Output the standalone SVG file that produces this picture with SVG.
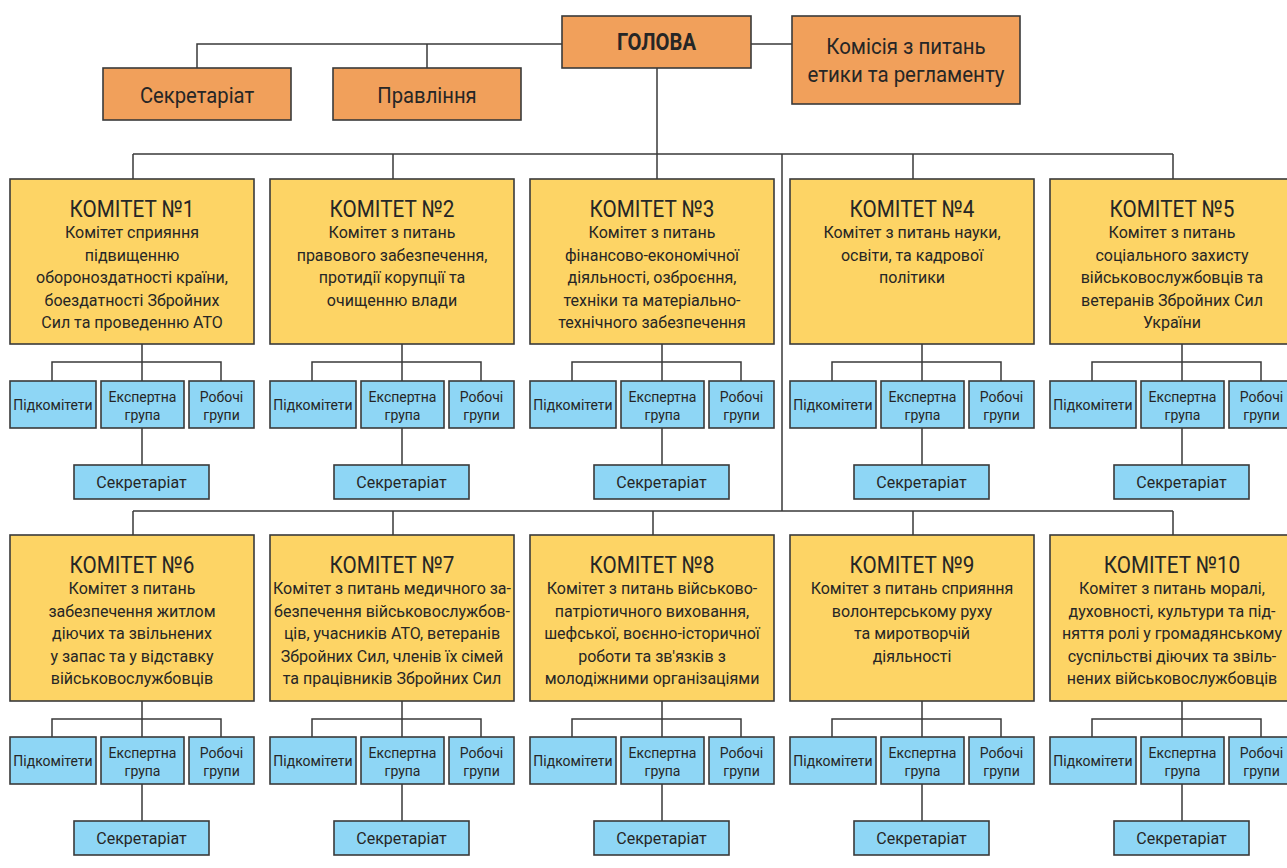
<svg xmlns="http://www.w3.org/2000/svg" width="1287" height="868" viewBox="0 0 1287 868">
<style>
.o{fill:#F1A05B;stroke:#3a3a3a;stroke-width:1.6}
.y{fill:#FDD465;stroke:#3a3a3a;stroke-width:1.6}
.b{fill:#8ED6F5;stroke:#3a3a3a;stroke-width:1.6}
.c{fill:none;stroke:#3a3a3a;stroke-width:1.5}
text{font-family:"Liberation Sans Narrow","Roboto","Liberation Sans",sans-serif;fill:#262626;text-anchor:middle}
.h{font-size:22px}
.hb{font-size:23px;font-weight:bold}
.t{font-size:23.5px}
.d{font-size:16px}
.s{font-size:14px}
.sc{font-size:16px}
</style>
<rect width="1287" height="868" fill="#ffffff"/>
<g id="connectors">
<path class="c" d="M197,68V44H562M751,44H792M427,44V68M657,68V179"/>
<path class="c" d="M133,154H1173M133,154V179M393,154V179M913,154V179M1173,154V179M782,154V511"/>
<path class="c" d="M133,511H1173M133,511V535M393,511V535M653,511V535M913,511V535M1173,511V535"/>
<path class="c" d="M142,344V381M52,381V362H221V381M142,428V465"/>
<path class="c" d="M402,344V381M312,381V362H481V381M402,428V465"/>
<path class="c" d="M662,344V381M572,381V362H741V381M662,428V465"/>
<path class="c" d="M922,344V381M832,381V362H1001V381M922,428V465"/>
<path class="c" d="M1182,344V381M1092,381V362H1261V381M1182,428V465"/>
<path class="c" d="M142,701V737M52,737V719H221V737M142,784V821"/>
<path class="c" d="M402,701V737M312,737V719H481V737M402,784V821"/>
<path class="c" d="M662,701V737M572,737V719H741V737M662,784V821"/>
<path class="c" d="M922,701V737M832,737V719H1001V737M922,784V821"/>
<path class="c" d="M1182,701V737M1092,737V719H1261V737M1182,784V821"/>
</g>
<g id="holova"><rect class="o" x="562" y="16" width="189" height="52"/><text class="hb" transform="translate(656.5,50) scale(0.88,1)">ГОЛОВА</text></g>
<g id="komisiia"><rect class="o" x="792" y="16" width="228" height="88"/><text class="h" transform="translate(906,54) scale(0.93,1)">Комісія з питань</text><text class="h" transform="translate(906,82) scale(0.93,1)">етики та регламенту</text></g>
<g id="sekretariat-top"><rect class="o" x="103" y="68" width="188" height="52"/><text class="h" transform="translate(197,103) scale(0.92,1)">Секретаріат</text></g>
<g id="pravlinnia"><rect class="o" x="333" y="68" width="188" height="52"/><text class="h" transform="translate(427,103) scale(0.92,1)">Правління</text></g>

<g id="k1"><rect class="y" x="10" y="179" width="244" height="165"/><text class="t" transform="translate(132,217) scale(0.88,1)">КОМІТЕТ №1</text>
<text class="d" x="132" y="238">Комітет сприяння</text><text class="d" x="132" y="260.5">підвищенню</text><text class="d" x="132" y="283">обороноздатності країни,</text><text class="d" x="132" y="305.5">боездатності Збройних</text><text class="d" x="132" y="328">Сил та проведенню АТО</text></g>
<g id="k2"><rect class="y" x="270" y="179" width="244" height="165"/><text class="t" transform="translate(392,217) scale(0.88,1)">КОМІТЕТ №2</text>
<text class="d" x="392" y="238">Комітет з питань</text><text class="d" x="392" y="260.5">правового забезпечення,</text><text class="d" x="392" y="283">протидії корупції та</text><text class="d" x="392" y="305.5">очищенню влади</text></g>
<g id="k3"><rect class="y" x="530" y="179" width="244" height="165"/><text class="t" transform="translate(652,217) scale(0.88,1)">КОМІТЕТ №3</text>
<text class="d" x="652" y="238">Комітет з питань</text><text class="d" x="652" y="260.5">фінансово-економічної</text><text class="d" x="652" y="283">діяльності, озброєння,</text><text class="d" x="652" y="305.5">техніки та матеріально-</text><text class="d" x="652" y="328">технічного забезпечення</text></g>
<g id="k4"><rect class="y" x="790" y="179" width="244" height="165"/><text class="t" transform="translate(912,217) scale(0.88,1)">КОМІТЕТ №4</text>
<text class="d" x="912" y="238">Комітет з питань науки,</text><text class="d" x="912" y="260.5">освіти, та кадрової</text><text class="d" x="912" y="283">політики</text></g>
<g id="k5"><rect class="y" x="1050" y="179" width="244" height="165"/><text class="t" transform="translate(1172,217) scale(0.88,1)">КОМІТЕТ №5</text>
<text class="d" x="1172" y="238">Комітет з питань</text><text class="d" x="1172" y="260.5">соціального захисту</text><text class="d" x="1172" y="283">військовослужбовців та</text><text class="d" x="1172" y="305.5">ветеранів Збройних Сил</text><text class="d" x="1172" y="328">України</text></g>

<g id="k6"><rect class="y" x="10" y="535" width="244" height="166"/><text class="t" transform="translate(132,573) scale(0.88,1)">КОМІТЕТ №6</text>
<text class="d" x="132" y="594">Комітет з питань</text><text class="d" x="132" y="616.5">забезпечення житлом</text><text class="d" x="132" y="639">діючих та звільнених</text><text class="d" x="132" y="661.5">у запас та у відставку</text><text class="d" x="132" y="684">військовослужбовців</text></g>
<g id="k7"><rect class="y" x="270" y="535" width="244" height="166"/><text class="t" transform="translate(392,573) scale(0.88,1)">КОМІТЕТ №7</text>
<text class="d" x="392" y="594">Комітет з питань медичного за-</text><text class="d" x="392" y="616.5">безпечення військовослужбов-</text><text class="d" x="392" y="639">ців, учасників АТО, ветеранів</text><text class="d" x="392" y="661.5">Збройних Сил, членів їх сімей</text><text class="d" x="392" y="684">та працівників Збройних Сил</text></g>
<g id="k8"><rect class="y" x="530" y="535" width="244" height="166"/><text class="t" transform="translate(652,573) scale(0.88,1)">КОМІТЕТ №8</text>
<text class="d" x="652" y="594">Комітет з питань військово-</text><text class="d" x="652" y="616.5">патріотичного виховання,</text><text class="d" x="652" y="639">шефської, воєнно-історичної</text><text class="d" x="652" y="661.5">роботи та зв'язків з</text><text class="d" x="652" y="684">молодіжними організаціями</text></g>
<g id="k9"><rect class="y" x="790" y="535" width="244" height="166"/><text class="t" transform="translate(912,573) scale(0.88,1)">КОМІТЕТ №9</text>
<text class="d" x="912" y="594">Комітет з питань сприяння</text><text class="d" x="912" y="616.5">волонтерському руху</text><text class="d" x="912" y="639">та миротворчій</text><text class="d" x="912" y="661.5">діяльності</text></g>
<g id="k10"><rect class="y" x="1050" y="535" width="244" height="166"/><text class="t" transform="translate(1172,573) scale(0.88,1)">КОМІТЕТ №10</text>
<text class="d" x="1172" y="594">Комітет з питань моралі,</text><text class="d" x="1172" y="616.5">духовності, культури та під-</text><text class="d" x="1172" y="639">няття ролі у громадянському</text><text class="d" x="1172" y="661.5">суспільстві діючих та звіль-</text><text class="d" x="1172" y="684">нених військовослужбовців</text></g>

<g id="k1-sub"><rect class="b" x="10" y="381" width="86" height="47"/><text class="s" x="53" y="410">Підкомітети</text><rect class="b" x="101" y="381" width="83" height="47"/><text class="s" x="142.5" y="402">Експертна</text><text class="s" x="142.5" y="420">група</text><rect class="b" x="189" y="381" width="65" height="47"/><text class="s" x="221.5" y="402">Робочі</text><text class="s" x="221.5" y="420">групи</text><rect class="b" x="74" y="465" width="135" height="34"/><text class="sc" x="141.5" y="488">Секретаріат</text></g>
<g id="k2-sub"><rect class="b" x="270" y="381" width="86" height="47"/><text class="s" x="313" y="410">Підкомітети</text><rect class="b" x="361" y="381" width="83" height="47"/><text class="s" x="402.5" y="402">Експертна</text><text class="s" x="402.5" y="420">група</text><rect class="b" x="449" y="381" width="65" height="47"/><text class="s" x="481.5" y="402">Робочі</text><text class="s" x="481.5" y="420">групи</text><rect class="b" x="334" y="465" width="135" height="34"/><text class="sc" x="401.5" y="488">Секретаріат</text></g>
<g id="k3-sub"><rect class="b" x="530" y="381" width="86" height="47"/><text class="s" x="573" y="410">Підкомітети</text><rect class="b" x="621" y="381" width="83" height="47"/><text class="s" x="662.5" y="402">Експертна</text><text class="s" x="662.5" y="420">група</text><rect class="b" x="709" y="381" width="65" height="47"/><text class="s" x="741.5" y="402">Робочі</text><text class="s" x="741.5" y="420">групи</text><rect class="b" x="594" y="465" width="135" height="34"/><text class="sc" x="661.5" y="488">Секретаріат</text></g>
<g id="k4-sub"><rect class="b" x="790" y="381" width="86" height="47"/><text class="s" x="833" y="410">Підкомітети</text><rect class="b" x="881" y="381" width="83" height="47"/><text class="s" x="922.5" y="402">Експертна</text><text class="s" x="922.5" y="420">група</text><rect class="b" x="969" y="381" width="65" height="47"/><text class="s" x="1001.5" y="402">Робочі</text><text class="s" x="1001.5" y="420">групи</text><rect class="b" x="854" y="465" width="135" height="34"/><text class="sc" x="921.5" y="488">Секретаріат</text></g>
<g id="k5-sub"><rect class="b" x="1050" y="381" width="86" height="47"/><text class="s" x="1093" y="410">Підкомітети</text><rect class="b" x="1141" y="381" width="83" height="47"/><text class="s" x="1182.5" y="402">Експертна</text><text class="s" x="1182.5" y="420">група</text><rect class="b" x="1229" y="381" width="65" height="47"/><text class="s" x="1261.5" y="402">Робочі</text><text class="s" x="1261.5" y="420">групи</text><rect class="b" x="1114" y="465" width="135" height="34"/><text class="sc" x="1181.5" y="488">Секретаріат</text></g>

<g id="k6-sub"><rect class="b" x="10" y="737" width="86" height="47"/><text class="s" x="53" y="766">Підкомітети</text><rect class="b" x="101" y="737" width="83" height="47"/><text class="s" x="142.5" y="758">Експертна</text><text class="s" x="142.5" y="776">група</text><rect class="b" x="189" y="737" width="65" height="47"/><text class="s" x="221.5" y="758">Робочі</text><text class="s" x="221.5" y="776">групи</text><rect class="b" x="74" y="821" width="135" height="34"/><text class="sc" x="141.5" y="844">Секретаріат</text></g>
<g id="k7-sub"><rect class="b" x="270" y="737" width="86" height="47"/><text class="s" x="313" y="766">Підкомітети</text><rect class="b" x="361" y="737" width="83" height="47"/><text class="s" x="402.5" y="758">Експертна</text><text class="s" x="402.5" y="776">група</text><rect class="b" x="449" y="737" width="65" height="47"/><text class="s" x="481.5" y="758">Робочі</text><text class="s" x="481.5" y="776">групи</text><rect class="b" x="334" y="821" width="135" height="34"/><text class="sc" x="401.5" y="844">Секретаріат</text></g>
<g id="k8-sub"><rect class="b" x="530" y="737" width="86" height="47"/><text class="s" x="573" y="766">Підкомітети</text><rect class="b" x="621" y="737" width="83" height="47"/><text class="s" x="662.5" y="758">Експертна</text><text class="s" x="662.5" y="776">група</text><rect class="b" x="709" y="737" width="65" height="47"/><text class="s" x="741.5" y="758">Робочі</text><text class="s" x="741.5" y="776">групи</text><rect class="b" x="594" y="821" width="135" height="34"/><text class="sc" x="661.5" y="844">Секретаріат</text></g>
<g id="k9-sub"><rect class="b" x="790" y="737" width="86" height="47"/><text class="s" x="833" y="766">Підкомітети</text><rect class="b" x="881" y="737" width="83" height="47"/><text class="s" x="922.5" y="758">Експертна</text><text class="s" x="922.5" y="776">група</text><rect class="b" x="969" y="737" width="65" height="47"/><text class="s" x="1001.5" y="758">Робочі</text><text class="s" x="1001.5" y="776">групи</text><rect class="b" x="854" y="821" width="135" height="34"/><text class="sc" x="921.5" y="844">Секретаріат</text></g>
<g id="k10-sub"><rect class="b" x="1050" y="737" width="86" height="47"/><text class="s" x="1093" y="766">Підкомітети</text><rect class="b" x="1141" y="737" width="83" height="47"/><text class="s" x="1182.5" y="758">Експертна</text><text class="s" x="1182.5" y="776">група</text><rect class="b" x="1229" y="737" width="65" height="47"/><text class="s" x="1261.5" y="758">Робочі</text><text class="s" x="1261.5" y="776">групи</text><rect class="b" x="1114" y="821" width="135" height="34"/><text class="sc" x="1181.5" y="844">Секретаріат</text></g>
</svg>
